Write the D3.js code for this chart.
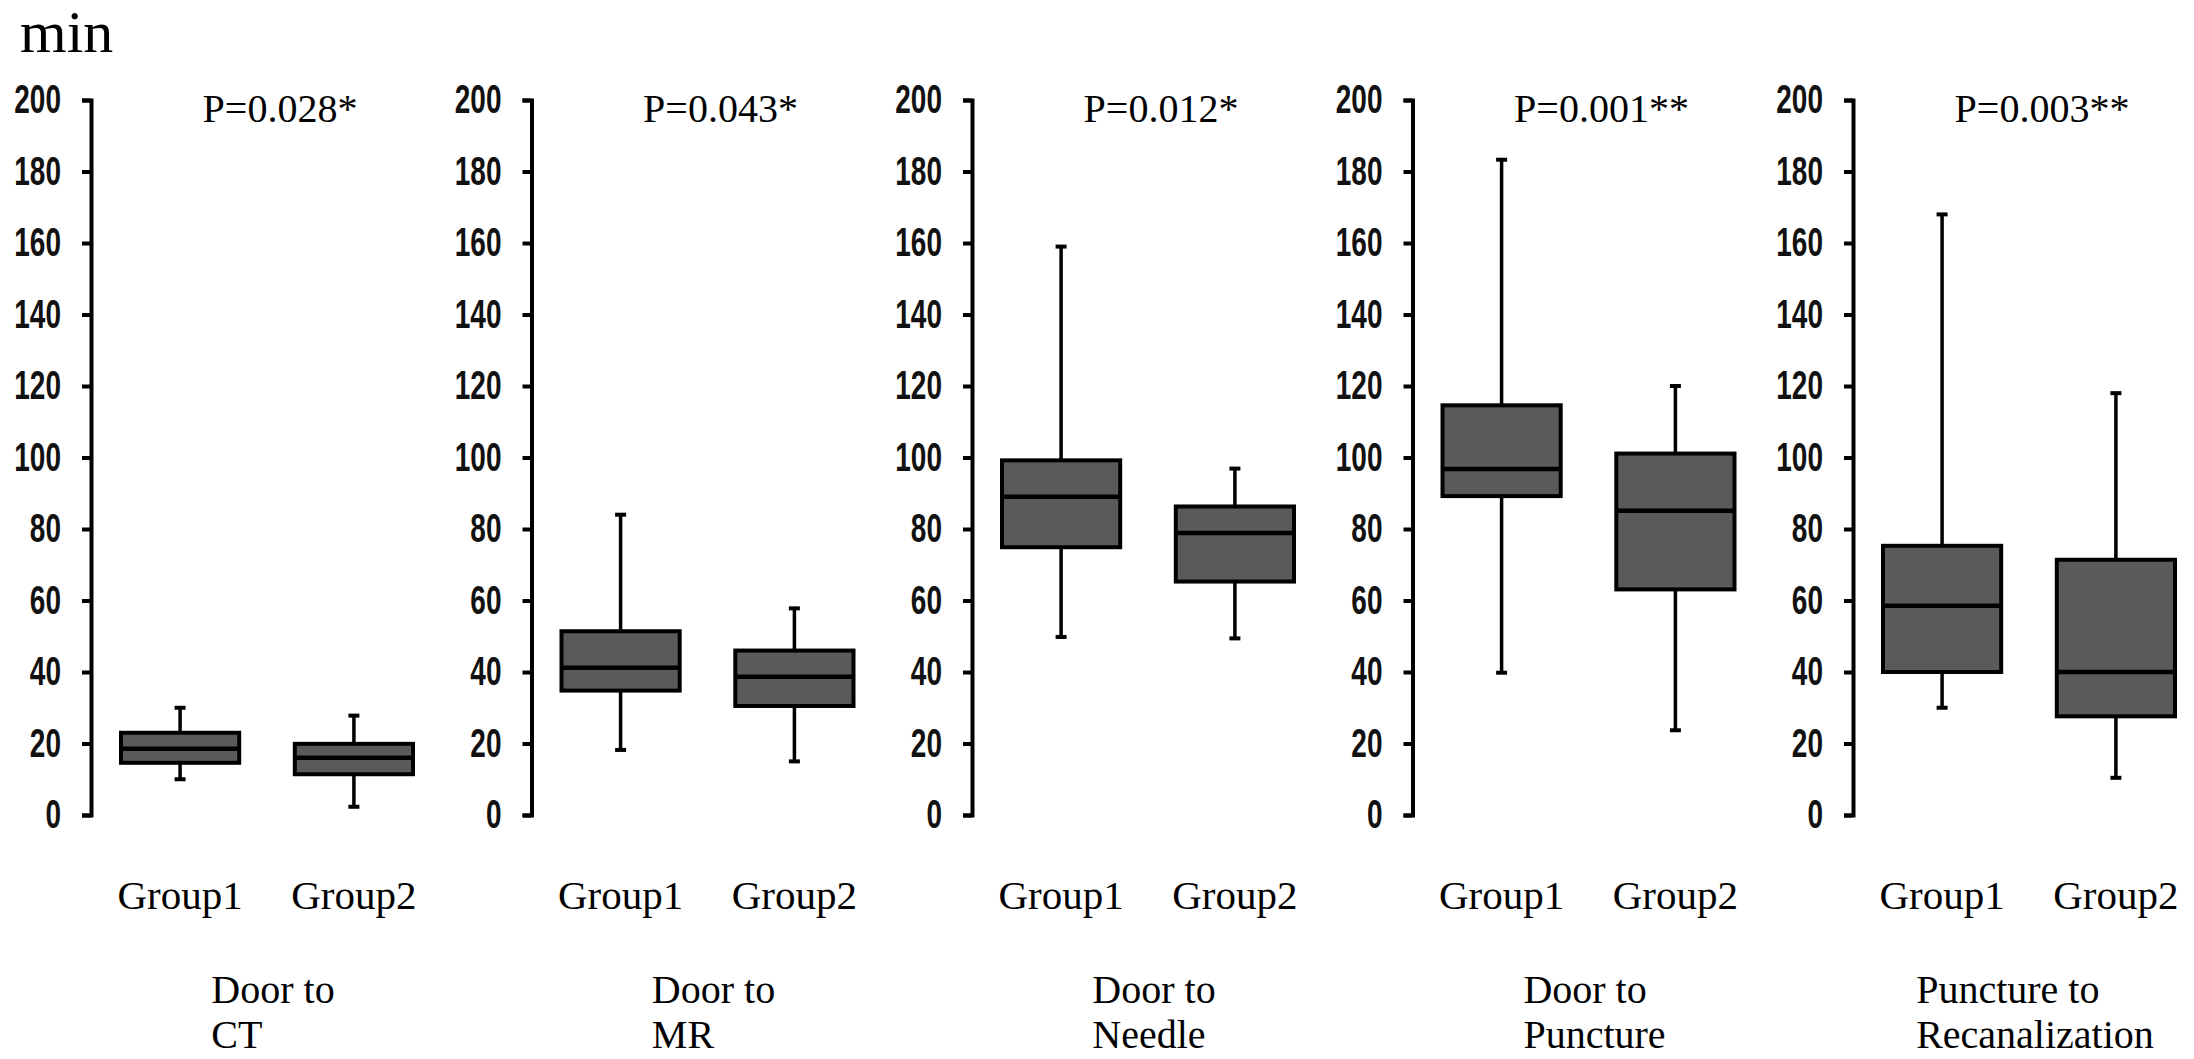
<!DOCTYPE html>
<html>
<head>
<meta charset="utf-8">
<script src="https://cdn.jsdelivr.net/npm/d3@7"></script>
<style>
  body { margin: 0; background: #fff; }
  svg { display: block; }
</style>
</head>
<body>
<div id="chart"></div>
<script>
// Data (minutes): [min, q1, median, q3, max]
const panelsLine1 = ["Door to", "Door to", "Door to", "Door to", "Puncture to"];
const panelsLine2 = ["CT", "MR", "Needle", "Puncture", "Recanalization"];
const pValues = ["P=0.028*", "P=0.043*", "P=0.012*", "P=0.001**", "P=0.003**"];
const groups = ["Group1", "Group2"];
const group1Stats = [
  [10, 14.6, 18.5, 23, 30],
  [18.2, 34.8, 41.2, 51.4, 84],
  [49.8, 74.9, 89, 99.2, 159],
  [39.8, 89.2, 96.8, 114.6, 183.3],
  [30, 40, 58.5, 75.3, 168]
];
const group2Stats = [
  [2.3, 11.4, 16, 19.9, 27.8],
  [15, 30.5, 38.7, 46, 57.8],
  [49.4, 65.3, 78.9, 86.3, 96.9],
  [23.7, 63.1, 85.1, 101.1, 120],
  [10.4, 27.6, 40, 71.4, 118]
];
const yTicks = [0, 20, 40, 60, 80, 100, 120, 140, 160, 180, 200];

// Constants
const width = 2194;
const height = 1059;
const BOX_FILL = "#5a5a5a";
const SERIF = "'Liberation Serif', 'Times New Roman', serif";
const SANS = "'Liberation Sans', Arial, sans-serif";

const svg = d3.select("#chart")
  .append("svg")
  .attr("width", width)
  .attr("height", height);

// Scales
const panelX = d3.scalePoint()
  .domain(d3.range(panelsLine2.length))
  .range([91, 1853]);

const y = d3.scaleLinear()
  .domain([0, 200])
  .range([815, 100]);

const groupX = d3.scaleBand()
  .domain(groups)
  .range([30, 322])
  .paddingInner(0.32)
  .paddingOuter(0);

// Unit label
svg.append("text")
  .attr("x", 20)
  .attr("y", 52)
  .attr("font-family", SERIF)
  .attr("font-size", 60)
  .attr("fill", "#000")
  .text("min");

panelsLine2.forEach((name, i) => {
  const g = svg.append("g")
    .attr("transform", `translate(${panelX(i)},0)`);

  // y axis
  const axis = g.append("g")
    .call(d3.axisLeft(y).tickValues(yTicks).tickSize(9).tickSizeOuter(9).tickFormat(d3.format("d")));
  axis.select(".domain")
    .attr("stroke", "#000")
    .attr("stroke-width", 4)
    .attr("stroke-linejoin", "miter");
  axis.selectAll(".tick line")
    .attr("stroke", "#000")
    .attr("stroke-width", 4);
  axis.selectAll(".tick text")
    .attr("x", -30 / 0.7)
    .attr("transform", "scale(0.7,1)")
    .attr("font-family", SANS)
    .attr("font-weight", "bold")
    .attr("font-size", 40)
    .attr("fill", "#111");

  // boxes
  const stats = [group1Stats[i], group2Stats[i]];
  stats.forEach((s, k) => {
    const [mn, q1, med, q3, mx] = s;
    const x0 = groupX(groups[k]);
    const bw = groupX.bandwidth();
    const cx = x0 + bw / 2;
    const capW = 11;

    // whisker
    g.append("line")
      .attr("x1", cx).attr("x2", cx)
      .attr("y1", y(mn)).attr("y2", y(mx))
      .attr("stroke", "#000")
      .attr("stroke-width", 3.5);
    [mn, mx].forEach(v => {
      g.append("line")
        .attr("x1", cx - capW / 2).attr("x2", cx + capW / 2)
        .attr("y1", y(v)).attr("y2", y(v))
        .attr("stroke", "#000")
        .attr("stroke-width", 4);
    });

    // box
    g.append("rect")
      .attr("x", x0)
      .attr("y", y(q3))
      .attr("width", bw)
      .attr("height", y(q1) - y(q3))
      .attr("fill", BOX_FILL)
      .attr("stroke", "#000")
      .attr("stroke-width", 4);

    // median
    g.append("line")
      .attr("x1", x0).attr("x2", x0 + bw)
      .attr("y1", y(med)).attr("y2", y(med))
      .attr("stroke", "#000")
      .attr("stroke-width", 4.5);

    // group label
    g.append("text")
      .attr("x", cx)
      .attr("y", 909)
      .attr("text-anchor", "middle")
      .attr("font-family", SERIF)
      .attr("font-size", 41)
      .attr("fill", "#000")
      .text(groups[k]);
  });

  // p value
  g.append("text")
    .attr("x", 189)
    .attr("y", 122)
    .attr("text-anchor", "middle")
    .attr("font-family", SERIF)
    .attr("font-size", 40)
    .attr("fill", "#000")
    .text(pValues[i]);

  // panel title, two lines left-aligned, block centred
  const title = g.append("text")
    .attr("font-family", SERIF)
    .attr("font-size", 40)
    .attr("fill", "#000");
  const l1 = title.append("tspan").attr("y", 1003).text(panelsLine1[i]);
  const l2 = title.append("tspan").attr("y", 1048).text(panelsLine2[i]);
  const w = Math.max(l1.node().getComputedTextLength(), l2.node().getComputedTextLength());
  const left = 182 - w / 2;
  l1.attr("x", left);
  l2.attr("x", left);
});
</script>
</body>
</html>
